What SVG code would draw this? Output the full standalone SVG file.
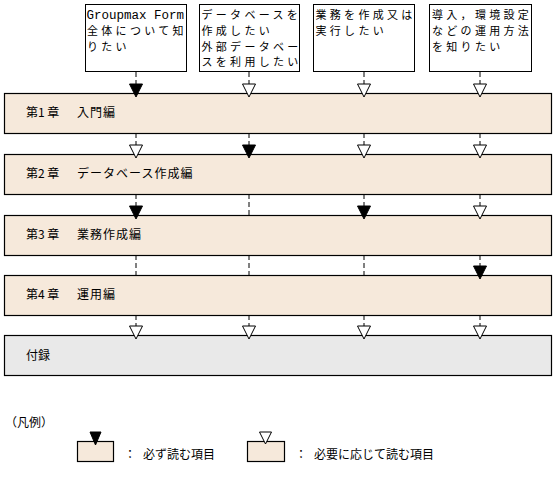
<svg xmlns="http://www.w3.org/2000/svg" width="555" height="489" viewBox="0 0 555 489">
<defs>
<style>
.box{fill:#fff;stroke:#000;stroke-width:1}
.band{fill:#F6E9DB;stroke:#000;stroke-width:1.2}
.app{fill:#E9E9E9;stroke:#000;stroke-width:1.2}
.bt{font-family:"Noto Sans CJK JP","DejaVu Sans Mono",monospace;font-size:11px;letter-spacing:3.3px;fill:#000}
.mono{font-family:"Liberation Mono",monospace;font-size:12.5px;fill:#000}
.ch{font-family:"Noto Sans CJK JP",sans-serif;font-size:12px;fill:#000}
.ttl{letter-spacing:1px}
.dash{stroke:#000;stroke-width:1;stroke-dasharray:5,3;fill:none}
.f{fill:#000;stroke:#000;stroke-width:1}
.o{fill:#fff;stroke:#000;stroke-width:1}
</style>
</defs>
<rect width="555" height="489" fill="#fff"/>
<g id="connectors">
<line class="dash" x1="136" y1="72" x2="136" y2="84"/>
<line class="dash" x1="249" y1="72" x2="249" y2="84"/>
<line class="dash" x1="364" y1="72" x2="364" y2="84"/>
<line class="dash" x1="480" y1="72" x2="480" y2="84"/>
<line class="dash" x1="136" y1="133" x2="136" y2="145"/>
<line class="dash" x1="249" y1="133" x2="249" y2="145"/>
<line class="dash" x1="364" y1="133" x2="364" y2="145"/>
<line class="dash" x1="480" y1="133" x2="480" y2="145"/>
<line class="dash" x1="136" y1="194" x2="136" y2="206"/>
<line class="dash" x1="249" y1="194" x2="249" y2="215"/>
<line class="dash" x1="364" y1="194" x2="364" y2="206"/>
<line class="dash" x1="480" y1="194" x2="480" y2="206"/>
<line class="dash" x1="136" y1="255" x2="136" y2="275"/>
<line class="dash" x1="249" y1="255" x2="249" y2="275"/>
<line class="dash" x1="364" y1="255" x2="364" y2="275"/>
<line class="dash" x1="480" y1="255" x2="480" y2="266"/>
<line class="dash" x1="136" y1="315" x2="136" y2="326"/>
<line class="dash" x1="249" y1="315" x2="249" y2="326"/>
<line class="dash" x1="364" y1="315" x2="364" y2="326"/>
<line class="dash" x1="480" y1="315" x2="480" y2="326"/>
</g>
<g id="q1"><rect class="box" x="85.5" y="4.5" width="101" height="67"/>
<text class="mono" x="86.5" y="19">Groupmax Form</text>
<text class="bt" x="87" y="35">全体について知</text>
<text class="bt" x="87" y="51">りたい</text></g>
<g id="q2"><rect class="box" x="199.5" y="4.5" width="100" height="67"/>
<text class="bt" x="201.5" y="19">データベースを</text>
<text class="bt" x="201.5" y="35">作成したい</text>
<text class="bt" x="201.5" y="51">外部データベー</text>
<text class="bt" x="201.5" y="66">スを利用したい</text></g>
<g id="q3"><rect class="box" x="313.5" y="4.5" width="101" height="67"/>
<text class="bt" x="315.5" y="19">業務を作成又は</text>
<text class="bt" x="315.5" y="35">実行したい</text></g>
<g id="q4"><rect class="box" x="429.5" y="4.5" width="102" height="67"/>
<text class="bt" x="432" y="19">導入，環境設定</text>
<text class="bt" x="432" y="35">などの運用方法</text>
<text class="bt" x="432" y="51">を知りたい</text></g>
<g id="ch1"><rect class="band" x="4.5" y="93.5" width="547" height="40"/>
<text class="ch" x="26" y="117">第1 章　<tspan class="ttl" x="77">入門編</tspan></text></g>
<g id="ch2"><rect class="band" x="4.5" y="154.5" width="547" height="40"/>
<text class="ch" x="26" y="178">第2 章　<tspan class="ttl" x="77">データベース作成編</tspan></text></g>
<g id="ch3"><rect class="band" x="4.5" y="215.5" width="547" height="40"/>
<text class="ch" x="26" y="239">第3 章　<tspan class="ttl" x="77">業務作成編</tspan></text></g>
<g id="ch4"><rect class="band" x="4.5" y="275.5" width="547" height="40"/>
<text class="ch" x="26" y="299">第4 章　<tspan class="ttl" x="77">運用編</tspan></text></g>
<g id="appendix"><rect class="app" x="4.5" y="335.5" width="547" height="40"/>
<text class="ch" x="26" y="360">付録</text></g>
<g id="arrowheads">
<polygon class="f" points="129.5,84 142.5,84 136,97"/>
<polygon class="o" points="242.5,84 255.5,84 249,97"/>
<polygon class="o" points="357.5,84 370.5,84 364,97"/>
<polygon class="o" points="473.5,84 486.5,84 480,97"/>
<polygon class="o" points="129.5,145 142.5,145 136,158"/>
<polygon class="f" points="242.5,145 255.5,145 249,158"/>
<polygon class="o" points="357.5,145 370.5,145 364,158"/>
<polygon class="o" points="473.5,145 486.5,145 480,158"/>
<polygon class="f" points="129.5,206 142.5,206 136,219"/>
<polygon class="f" points="357.5,206 370.5,206 364,219"/>
<polygon class="o" points="473.5,206 486.5,206 480,219"/>
<polygon class="f" points="473.5,266 486.5,266 480,279"/>
<polygon class="o" points="129.5,326 142.5,326 136,339"/>
<polygon class="o" points="242.5,326 255.5,326 249,339"/>
<polygon class="o" points="357.5,326 370.5,326 364,339"/>
<polygon class="o" points="473.5,326 486.5,326 480,339"/>
</g>
<g id="legend">
<text class="ch" x="5" y="427">（凡例）</text>
<rect class="band" x="77.5" y="441.5" width="36" height="20"/>
<polygon class="f" points="90,432 101,432 95.5,445"/>
<text class="ch" x="124" y="459">：</text>
<text class="ch" x="143" y="459">必ず読む項目</text>
<rect class="band" x="247.5" y="441.5" width="37" height="20"/>
<polygon class="o" points="259.5,432 271.5,432 265.5,444"/>
<text class="ch" x="295" y="459">：</text>
<text class="ch" x="314" y="459">必要に応じて読む項目</text>
</g>
</svg>
